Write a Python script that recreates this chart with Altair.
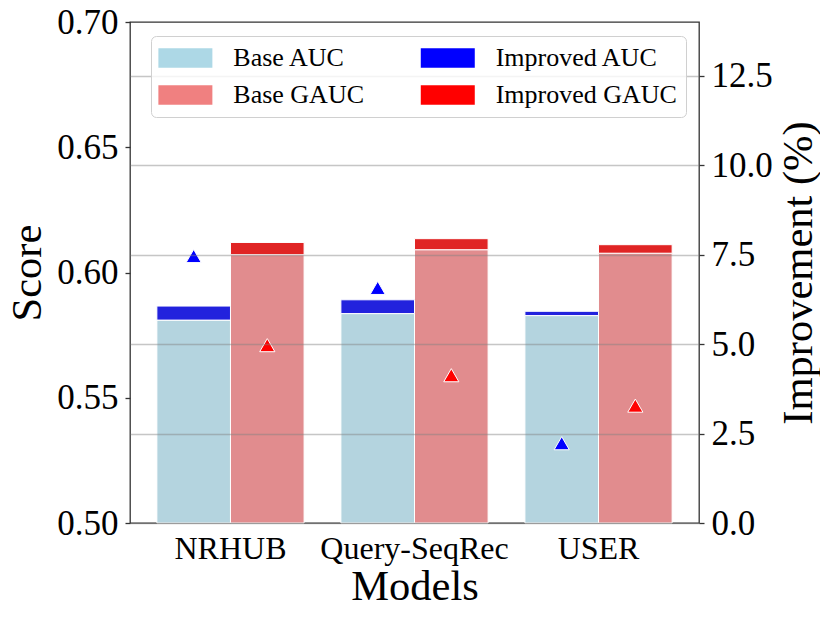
import altair as alt
import pandas as pd

models = ["NRHUB", "Query-SeqRec", "USER"]
base_auc = [0.5810, 0.5836, 0.5828]
improved_auc = [0.5866, 0.5891, 0.5845]
base_gauc = [0.6071, 0.6091, 0.6077]
improved_gauc = [0.6120, 0.6135, 0.6111]
auc_improvement = [7.46, 6.57, 2.23]
gauc_improvement = [4.97, 4.13, 3.28]

score_ticks = [0.50, 0.55, 0.60, 0.65, 0.70]
improvement_ticks = [0.0, 2.5, 5.0, 7.5, 10.0, 12.5]

# legend fills column by column: column 1 = Base, column 2 = Improved
legend_labels = ["Base AUC", "Base GAUC", "Improved AUC", "Improved GAUC"]
legend_colors = ["#add8e6", "#f08080", "#0000ff", "#ff0000"]
bar_colors = ["#b4d4df", "#e18c8e", "#2222dd", "#e02424"]

rows = []
for i, m in enumerate(models):
    rows.append(dict(model=m, metric="AUC", base=base_auc[i], improved=improved_auc[i],
                     gain=auc_improvement[i], base_label="Base AUC", imp_label="Improved AUC"))
    rows.append(dict(model=m, metric="GAUC", base=base_gauc[i], improved=improved_gauc[i],
                     gain=gauc_improvement[i], base_label="Base GAUC", imp_label="Improved GAUC"))
df = pd.DataFrame(rows)

FONT = "Liberation Serif"
W, H = 569, 501

x_enc = alt.X("model:N", sort=models,
              scale=alt.Scale(domain=models, paddingInner=0.2, paddingOuter=0.146),
              axis=alt.Axis(title="Models", labelFontSize=32, labelPadding=10, labelAngle=0,
                            labelLimit=400, ticks=False, domain=False, titleFontSize=42.5,
                            titleY=76, titleBaseline="alphabetic", titleFontWeight="normal"))
xo_enc = alt.XOffset("metric:N", scale=alt.Scale(domain=["AUC", "GAUC"], paddingInner=0, paddingOuter=0))

left_axis = alt.Axis(title="Score", values=score_ticks, format=".2f", labelFontSize=35,
                     labelPadding=7, tickSize=5, grid=False, domain=False,
                     titleFontSize=42.5, titleAngle=270, titleX=-103, titleY=250.5,
                     titleBaseline="middle", titleAlign="center", titleFontWeight="normal")
yscale = alt.Scale(domain=[0.5, 0.7], zero=False, nice=False)

color_scale = alt.Scale(domain=legend_labels, range=bar_colors)

base_bars = alt.Chart(df).mark_bar(stroke="white", strokeWidth=1).encode(
    x=x_enc, xOffset=xo_enc,
    y=alt.Y("base:Q", scale=yscale, axis=left_axis),
    y2=alt.datum(0.5),
    color=alt.Color("base_label:N", scale=color_scale, legend=None),
)
imp_bars = alt.Chart(df).mark_bar(stroke="white", strokeWidth=1).encode(
    x=x_enc, xOffset=xo_enc,
    y=alt.Y("improved:Q", scale=yscale, axis=left_axis),
    y2=alt.Y2("base:Q"),
    color=alt.Color("imp_label:N", scale=color_scale, legend=None),
)

# wide legend swatch (54 x 19.5 px)
SWATCH = "M-1.5,-1L4.04,-1L4.04,1L-1.5,1Z"
legend_layer = alt.Chart(df).mark_square().encode(
    color=alt.Color("base_label:N",
                    scale=alt.Scale(domain=legend_labels, range=legend_colors),
                    legend=alt.Legend(title=None, orient="none", legendX=21, legendY=14,
                                      columns=2, symbolType=SWATCH, symbolSize=380,
                                      symbolStrokeWidth=0, symbolOpacity=1,
                                      labelFontSize=26, labelOffset=47.3, labelLimit=400,
                                      columnPadding=55.4, rowPadding=11, padding=9,
                                      fillColor="rgba(255,255,255,0.8)",
                                      strokeColor="#d0d0d0", cornerRadius=5, zindex=2,
                                      labelColor="black", labelFont=FONT))
).transform_filter("false")

left = alt.layer(base_bars, imp_bars, legend_layer).resolve_scale(color="independent")

tri = alt.Chart(df).mark_point(shape="triangle-up", filled=True, size=230,
                               stroke="white", strokeWidth=1, opacity=1).encode(
    x=x_enc, xOffset=xo_enc,
    y=alt.Y("gain:Q", scale=alt.Scale(domain=[0, 14], nice=False),
            axis=alt.Axis(title="Improvement (%)", orient="right", values=improvement_ticks,
                          format=".1f", labelFontSize=35, labelPadding=7, tickSize=5,
                          grid=True, gridColor="#808080", gridOpacity=0.45, gridWidth=1.5,
                          zindex=1, domain=False,
                          titleFontSize=42.5, titleAngle=270, titleX=99, titleY=250.5,
                          titleBaseline="middle", titleAlign="center",
                          titleFontWeight="normal")),
    fill=alt.Fill("metric:N", scale=alt.Scale(domain=["AUC", "GAUC"], range=["#0000ff", "#ff0000"]),
                  legend=None),
)

chart = alt.layer(left, tri).resolve_scale(y="independent").properties(
    width=W, height=H,
    autosize=alt.AutoSizeParams(type="none"),
    padding={"left": 122, "top": 14, "right": 121, "bottom": 88},
).configure(font=FONT).configure_view(
    stroke="#333333", strokeWidth=1.3
).configure_axis(
    labelFont=FONT, titleFont=FONT, labelColor="black", titleColor="black",
    tickColor="#333333", tickWidth=1.3
)

chart.save("out.html", embed_options={"renderer": "svg", "actions": False})
